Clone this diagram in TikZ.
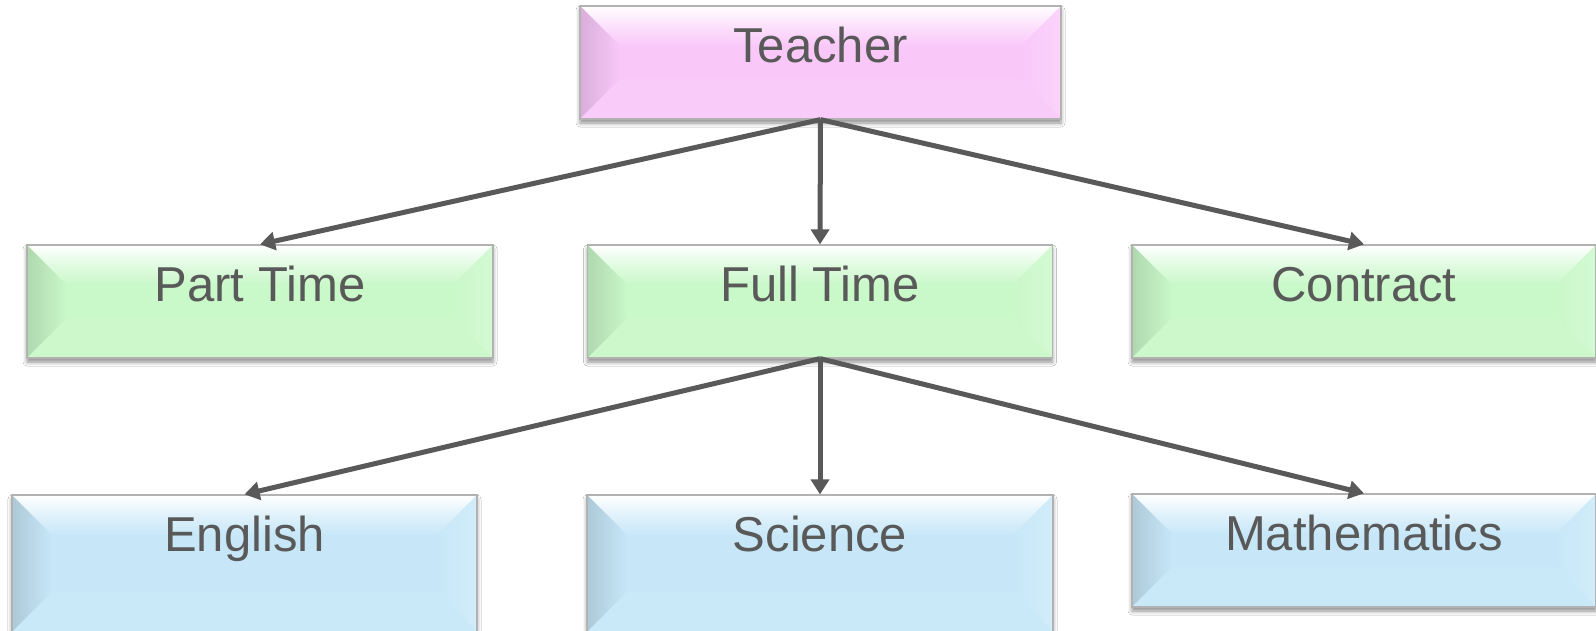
\documentclass[tikz,border=0pt]{standalone}
\usepackage{fontspec}
\setmainfont{Liberation Sans}
\usetikzlibrary{arrows.meta,shadows.blur,calc}
\definecolor{txt}{RGB}{89,89,89}
\definecolor{pinkc}{RGB}{249,200,249}
\definecolor{greenc}{RGB}{201,248,201}
\definecolor{bluec}{RGB}{199,231,248}
\definecolor{edgec}{RGB}{178,178,178}
\tikzset{
  bevbox/.style={draw=edgec, line width=0.6pt, fill=#1, inner sep=0pt,
    text=txt, font=\fontsize{24.5}{29}\selectfont,
    text height=17.5pt, text depth=17.5pt, minimum height=56.5pt,
    blur shadow={shadow xshift=0pt, shadow yshift=-2pt, shadow blur radius=2pt, shadow opacity=45},
    path picture={
      \coordinate (pNW) at (path picture bounding box.north west);
      \coordinate (pNE) at (path picture bounding box.north east);
      \coordinate (pSW) at (path picture bounding box.south west);
      \coordinate (pSE) at (path picture bounding box.south east);
      \coordinate (iNW) at ($(pNW)+(20pt,-20pt)$);
      \coordinate (iNE) at ($(pNE)+(-20pt,-20pt)$);
      \coordinate (iSW) at ($(pSW)+(20pt,20pt)$);
      \coordinate (iSE) at ($(pSE)+(-20pt,20pt)$);
      \shade[top color=white, bottom color=#1, middle color=#1!55!white] (pNW) -- (pNE) -- (iNE) -- (iNW) -- cycle;
      \shade[left color=#1!87!black, right color=#1] (pNW) -- (iNW) -- (iSW) -- (pSW) -- cycle;
      \shade[left color=#1, right color=#1!80!white] (pNE) -- (iNE) -- (iSE) -- (pSE) -- cycle;
      \fill[#1!94!white] (pSW) -- (iSW) -- (iSE) -- (pSE) -- cycle;
    }},
  conn/.style={draw=txt, line width=2.5pt, -{Triangle[length=7.5pt,width=9pt]}}
}
\begin{document}
\begin{tikzpicture}[x=0.5pt,y=-0.5pt]
\useasboundingbox (0,0) rectangle (1596,631);
\fill[white] (0,0) rectangle (1596,631);
\node[bevbox=pinkc, minimum width=240.5pt] (teacher) at (820.5,62.5) {Teacher};
\node[bevbox=greenc, minimum width=233pt] (part) at (260,301.5) {Part Time};
\node[bevbox=greenc, minimum width=232.5pt] (full) at (820,301.5) {Full Time};
\node[bevbox=greenc, minimum width=232pt] (contract) at (1364,301.5) {Contract};
\node[bevbox=bluec, minimum width=232.5pt, minimum height=68.5pt, text depth=30pt] (english) at (244.5,563.5) {English};
\node[bevbox=bluec, minimum width=233pt, minimum height=68.5pt, text depth=30pt] (science) at (820,563.5) {Science};
\node[bevbox=bluec, minimum width=232pt] (math) at (1364,550.5) {Mathematics};
\draw[conn] (teacher.south) -- (part.north);
\draw[conn] (teacher.south) -- (full.north);
\draw[conn] (teacher.south) -- (contract.north);
\draw[conn] (full.south) -- (english.north);
\draw[conn] (full.south) -- (science.north);
\draw[conn] (full.south) -- (math.north);
\end{tikzpicture}
\end{document}
